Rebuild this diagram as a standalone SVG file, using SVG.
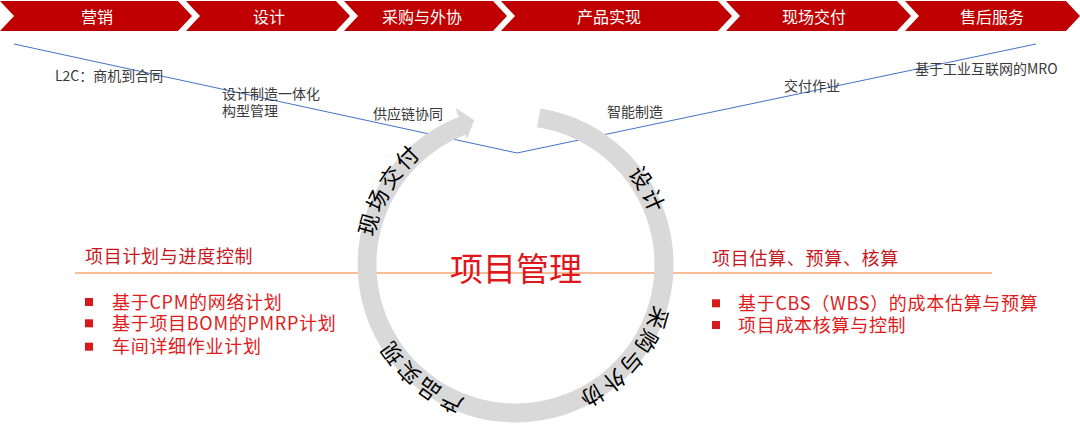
<svg xmlns="http://www.w3.org/2000/svg" xmlns:xlink="http://www.w3.org/1999/xlink" width="1080" height="435" viewBox="0 0 1080 435">
  <style>
    .cjk { font-family: "Noto Sans CJK SC", "Noto Sans", "Liberation Sans", sans-serif; }
    .chev { fill: #c00000; }
    .chevt { fill: #ffffff; font-size: 16px; text-anchor: middle; }
    .lbl { fill: #3a3a3a; font-size: 14px; }
    .ring { fill: #d9d9d9; }
    .ringt { fill: #000000; font-size: 22px; letter-spacing: 2.5px; }
    .head { fill: #c8161e; font-size: 18px; letter-spacing: 0.7px; }
    .item { fill: #e01b1b; font-size: 18px; letter-spacing: 0.7px; }
    .bul { fill: #d7191c; }
    .title { fill: #e0161d; font-size: 33px; text-anchor: middle; }
  </style>
  <defs>
    <path id="circ" d="M 515.5,120.5 A 144 144 0 1 1 515.5,408.5 A 144 144 0 1 1 515.5,120.5"/>
  </defs>
  <rect width="1080" height="435" fill="#ffffff"/>

  <g id="banner" class="cjk">
    <g id="stage-marketing">
      <polygon class="chev" points="0,1 178,1 192,16 178,31 0,31 14,16"/>
      <text class="chevt" x="97" y="22.5">营销</text>
    </g>
    <g id="stage-design">
      <polygon class="chev" points="186,1 336,1 350,16 336,31 186,31 200,16"/>
      <text class="chevt" x="269" y="22.5">设计</text>
    </g>
    <g id="stage-procurement">
      <polygon class="chev" points="344,1 493,1 507,16 493,31 344,31 358,16"/>
      <text class="chevt" x="422" y="22.5">采购与外协</text>
    </g>
    <g id="stage-product">
      <polygon class="chev" points="501,1 718,1 732,16 718,31 501,31 515,16"/>
      <text class="chevt" x="609" y="22.5">产品实现</text>
    </g>
    <g id="stage-delivery">
      <polygon class="chev" points="726,1 897,1 911,16 897,31 726,31 740,16"/>
      <text class="chevt" x="814" y="22.5">现场交付</text>
    </g>
    <g id="stage-service">
      <polygon class="chev" points="905,1 1066,1 1080,16 1066,31 905,31 919,16"/>
      <text class="chevt" x="992" y="22.5">售后服务</text>
    </g>
  </g>

  <g id="connectors">
    <polyline points="14,44 517,153 1036,44" fill="none" stroke="#4472c4" stroke-width="1"/>
    <line x1="75" y1="273" x2="992" y2="273" stroke="#ed7d31" stroke-width="1.2"/>
  </g>

  <g id="line-labels" class="cjk">
    <text class="lbl" x="55" y="81">L2C：商机到合同</text>
    <text class="lbl" x="222" y="98.5">设计制造一体化</text>
    <text class="lbl" x="222" y="116">构型管理</text>
    <text class="lbl" x="373" y="119">供应链协同</text>
    <text class="lbl" x="607" y="117">智能制造</text>
    <text class="lbl" x="784" y="91">交付作业</text>
    <text class="lbl" x="915" y="74">基于工业互联网的MRO</text>
  </g>

  <g id="cycle">
    <path class="ring" d="M 540.2,108.4 A 158 158 0 1 1 458.9,117.0 L 455.3,107.7 L 474.2,120.3 L 467.1,138.5 L 465.7,134.7 A 139 139 0 1 0 537.2,127.2 Z"/>
    <g class="cjk ringt" text-anchor="middle">
      <text><textPath xlink:href="#circ" href="#circ" startOffset="152.3">设计</textPath></text>
      <text><textPath xlink:href="#circ" href="#circ" startOffset="328">采购与外协</textPath></text>
      <text><textPath xlink:href="#circ" href="#circ" startOffset="552.9">产品实现</textPath></text>
      <text><textPath xlink:href="#circ" href="#circ" startOffset="754.7">现场交付</textPath></text>
    </g>
  </g>

  <g id="center-title" class="cjk">
    <text class="title" x="516" y="281">项目管理</text>
  </g>

  <g id="left-panel" class="cjk">
    <text class="head" x="85" y="262.7">项目计划与进度控制</text>
    <rect class="bul" x="85" y="298" width="8" height="8"/>
    <text class="item" x="112" y="308.7">基于CPM的网络计划</text>
    <rect class="bul" x="85" y="319.3" width="8" height="8"/>
    <text class="item" x="112" y="330">基于项目BOM的PMRP计划</text>
    <rect class="bul" x="85" y="342.7" width="8" height="8"/>
    <text class="item" x="112" y="353.4">车间详细作业计划</text>
  </g>

  <g id="right-panel" class="cjk">
    <text class="head" x="712" y="264.7">项目估算、预算、核算</text>
    <rect class="bul" x="712" y="299.3" width="8" height="8"/>
    <text class="item" x="738" y="310">基于CBS（WBS）的成本估算与预算</text>
    <rect class="bul" x="712" y="321" width="8" height="8"/>
    <text class="item" x="738" y="331.7">项目成本核算与控制</text>
  </g>
</svg>
